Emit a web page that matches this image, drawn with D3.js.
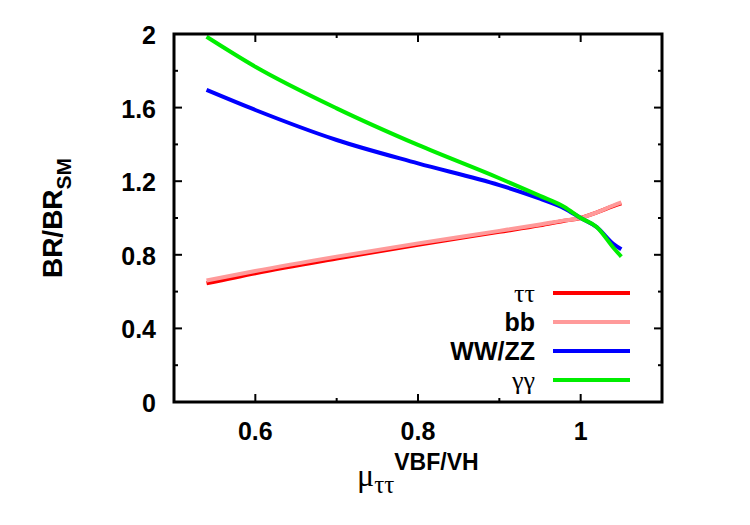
<!DOCTYPE html>
<html>
<head>
<meta charset="utf-8">
<style>
  body { margin: 0; background: #fff; }
  svg { display: block; }
  .tick-label { font-family: "Liberation Sans", Arial, sans-serif; font-weight: bold; font-size: 25px; }
  .leg-sans { font-family: "Liberation Sans", Arial, sans-serif; font-weight: bold; font-size: 25px; }
  .leg-serif { font-family: "Liberation Serif", "DejaVu Serif", serif; font-size: 26px; }
</style>
</head>
<body>
<svg id="chart" width="750" height="525"></svg>
<script src="https://d3js.org/d3.v7.min.js"></script>
<script>
// mu_tautau (VBF/VH) values
const xs = [0.54, 0.6, 0.7, 0.8, 0.9, 0.95, 0.98, 1.0, 1.02, 1.04, 1.05];
// BR / BR_SM per channel
const tautau = [0.645, 0.70, 0.78, 0.855, 0.925, 0.96, 0.985, 1.0, 1.03, 1.065, 1.08];
const bb     = [0.66, 0.712, 0.79, 0.862, 0.93, 0.965, 0.987, 1.0, 1.03, 1.068, 1.085];
const wwzz   = [1.696, 1.587, 1.424, 1.297, 1.179, 1.105, 1.052, 1.0, 0.95, 0.86, 0.83];
const gamgam = [1.985, 1.822, 1.596, 1.397, 1.216, 1.12, 1.06, 1.0, 0.95, 0.84, 0.79];

const xTicks = [0.6, 0.8, 1];
const xMinor = [0.7, 0.9];
const yTicks = [0, 0.4, 0.8, 1.2, 1.6, 2];
const yMinor = [0.2, 0.6, 1.0, 1.4, 1.8];

const series = [
  { name: "ττ", serif: true, color: "#ff0000", values: tautau },
  { name: "bb", serif: false, color: "#ff9a9a", values: bb },
  { name: "WW/ZZ", serif: false, color: "#0000ff", values: wwzz },
  { name: "γγ", serif: true, color: "#00ee00", values: gamgam }
];

const svg = d3.select("#chart");
const mLeft = 174, mTop = 34, w = 488, h = 368;
const x = d3.scaleLinear().domain([0.5, 1.1]).range([mLeft, mLeft + w]);
const y = d3.scaleLinear().domain([0, 2]).range([mTop + h, mTop]);

// curves
const line = d3.line()
  .x((d, i) => x(xs[i]))
  .y(d => y(d))
  .curve(d3.curveMonotoneX);

series.forEach(s => {
  svg.append("path")
    .attr("d", line(s.values))
    .attr("fill", "none")
    .attr("stroke", s.color)
    .attr("stroke-width", 4);
});

// ticks (inward, on all four sides)
const tk = svg.append("g").attr("stroke", "#000").attr("stroke-width", 2);
function xt(v, len) {
  tk.append("line").attr("x1", x(v)).attr("x2", x(v)).attr("y1", mTop + h).attr("y2", mTop + h - len);
  tk.append("line").attr("x1", x(v)).attr("x2", x(v)).attr("y1", mTop).attr("y2", mTop + len);
}
function yt(v, len) {
  tk.append("line").attr("y1", y(v)).attr("y2", y(v)).attr("x1", mLeft).attr("x2", mLeft + len);
  tk.append("line").attr("y1", y(v)).attr("y2", y(v)).attr("x1", mLeft + w).attr("x2", mLeft + w - len);
}
xTicks.forEach(v => xt(v, 8));
xMinor.forEach(v => xt(v, 4));
yTicks.forEach(v => yt(v, 8));
yMinor.forEach(v => yt(v, 4));

// frame
svg.append("rect")
  .attr("x", mLeft).attr("y", mTop).attr("width", w).attr("height", h)
  .attr("fill", "none").attr("stroke", "#000").attr("stroke-width", 3);

// tick labels
svg.selectAll(".xl").data(xTicks).enter().append("text")
  .attr("class", "tick-label")
  .attr("x", d => x(d)).attr("y", mTop + h + 38)
  .attr("text-anchor", "middle")
  .text(d => d3.format("~g")(d));

svg.selectAll(".yl").data(yTicks).enter().append("text")
  .attr("class", "tick-label")
  .attr("x", mLeft - 18).attr("y", d => y(d) + 10)
  .attr("text-anchor", "end")
  .text(d => d3.format("~g")(d));

// legend
const legX = 535, legY0 = 293, legStep = 29;
series.forEach((s, i) => {
  const ly = legY0 + i * legStep;
  svg.append("text")
    .attr("class", s.serif ? "leg-serif" : "leg-sans")
    .attr("x", legX).attr("y", ly + 9)
    .attr("text-anchor", "end")
    .text(s.name);
  svg.append("line")
    .attr("x1", 553).attr("x2", 630).attr("y1", ly).attr("y2", ly)
    .attr("stroke", s.color).attr("stroke-width", 4);
});

// x label: mu_tautau^{VBF/VH}
const xl = svg.append("text").attr("x", 357).attr("y", 486);
xl.append("tspan").attr("class", "leg-serif").style("font-size", "32px").text("μ");
xl.append("tspan").attr("class", "leg-serif").style("font-size", "25px").attr("dy", 7).text("ττ");
xl.append("tspan").attr("class", "tick-label").style("font-size", "23px").attr("dy", -23).text("VBF/VH");

// y label: BR/BR_SM
const yl = svg.append("text")
  .attr("transform", "translate(62,218) rotate(-90)")
  .attr("text-anchor", "middle")
  .attr("class", "tick-label")
  .style("font-size", "28px");
yl.append("tspan").text("BR/BR");
yl.append("tspan").style("font-size", "21px").attr("dy", 9).text("SM");
</script>
</body>
</html>
